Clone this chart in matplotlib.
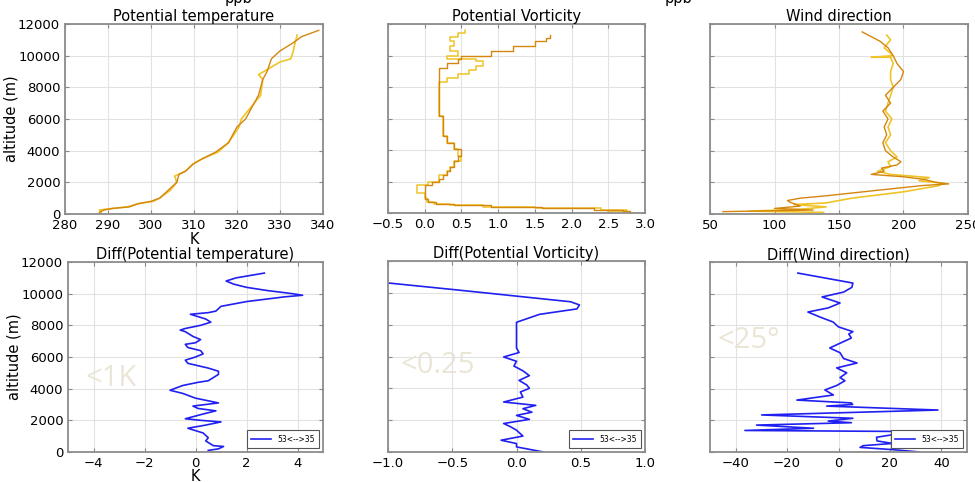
import numpy as np
import matplotlib
matplotlib.use("Agg")
import matplotlib.pyplot as plt

# ---- data ----
# potential temperature profiles (K, m)
pt_a_alt = [100, 250, 350, 450, 650, 800, 1000, 1500, 2000, 2500, 2700, 3200, 3500, 3900,
            4500, 5500, 6000, 7000, 7500, 8500, 9000, 9800, 10300, 10800, 11200, 11500, 11600]
pt_a = [288, 289, 291, 295, 297, 300, 302, 304, 306, 306.5, 308, 310, 312, 315,
        318, 320, 322, 324, 325, 326, 327, 328, 330, 333, 335, 338, 339]
pt_b_alt = [50, 250, 350, 450, 650, 800, 1000, 1500, 2000, 2400, 2700, 3100, 3500, 3900,
            4500, 5500, 6000, 7000, 7500, 8500, 8800, 9200, 9600, 9800, 10200, 10800, 11300]
pt_b = [288.5, 288, 291, 294.5, 297, 300.5, 302, 304.5, 306, 305.5, 308, 309.5, 312, 315.5,
        318, 320.5, 321, 324, 325.5, 326, 325, 327.5, 330, 332.5, 333, 333.5, 334]

# potential vorticity (PVU) layers, value holds from alt_i up to alt_i+1
pv_a_alt = [0, 100, 200, 300, 400, 500, 600, 700, 900, 1750, 1950, 2150, 2400, 2650, 2900,
            3300, 3650, 4050, 4450, 4900, 6150, 9200, 9500, 9800, 10000, 10300, 10600,
            10900, 11100, 11300]
pv_a = [2.8, 2.7, 2.3, 1.6, 0.9, 0.4, 0.15, 0.05, 0.0, 0.1, 0.2, 0.25, 0.3, 0.35, 0.4,
        0.45, 0.5, 0.4, 0.3, 0.25, 0.2, 0.3, 0.45, 0.5, 0.9, 1.2, 1.5, 1.65, 1.7, 1.7]
pv_b_alt = [0, 100, 200, 300, 400, 500, 600, 700, 950, 1250, 1780, 1950, 2150, 2400, 2650,
            2900, 3300, 3650, 4050, 4450, 4900, 6150, 8300, 8550, 8800, 9050, 9350, 9650,
            9800, 10000, 10300, 10600, 10900, 11200, 11450, 11600]
pv_b = [2.5, 2.75, 2.4, 1.5, 0.8, 0.35, 0.12, 0.03, 0.0, -0.1, 0.05, 0.2, 0.2, 0.3, 0.35,
        0.4, 0.5, 0.45, 0.4, 0.3, 0.25, 0.2, 0.3, 0.45, 0.6, 0.7, 0.8, 0.7, 0.3, 0.45,
        0.35, 0.4, 0.35, 0.45, 0.55, 0.55]

# wind direction (deg, m)
wd_a_alt = [150, 170, 250, 350, 500, 750, 850, 1000, 1150, 1500, 1800, 1900, 2000, 2200,
            2350, 2500, 2700, 2900, 3100, 3300, 3600, 4000, 4500, 5000, 5500, 6000, 6500,
            7000, 7500, 8000, 8500, 9000, 9500, 10000, 10500, 10900, 11200, 11500]
wd_a = [60, 75, 130, 100, 120, 112, 110, 120, 140, 180, 215, 235, 225, 215,
        200, 175, 185, 183, 195, 198, 192, 186, 184, 187, 185, 188, 184,
        190, 186, 192, 198, 200, 195, 192, 188, 182, 175, 168]
wd_b_alt = [100, 180, 300, 450, 600, 700, 1000, 1400, 1800, 1950, 2100, 2300, 2500, 2700,
            3000, 3300, 3600, 4000, 4500, 5000, 5500, 6000, 6500, 7000, 7500, 8000, 8500,
            9000, 9500, 9900, 9900, 10000, 10500, 11000, 11300]
wd_b = [138, 80, 120, 140, 115, 140, 160, 200, 228, 230, 212, 220, 190, 180,
        190, 188, 195, 190, 186, 190, 188, 191, 186, 188, 190, 192, 190,
        190, 192, 190, 175, 192, 185, 190, 187]

# differences 53<-->35
dpt_alt = [100, 200, 350, 400, 500, 700, 900, 1200, 1500, 1700, 1900, 2000, 2100, 2400,
           2600, 2750, 2900, 3000, 3100, 3400, 3700, 3900, 4200, 4400, 4500, 4600, 4900,
           5100, 5300, 5600, 5800, 6000, 6200, 6400, 6600, 6800, 6900, 7100, 7300, 7600,
           7700, 7800, 8000, 8200, 8400, 8600, 8700, 8800, 8900, 9200, 9500, 9800, 9900,
           10000, 10200, 10400, 10600, 10800, 11000, 11300]
dpt = [0.5, 0.9, 1.1, 0.7, 0.6, 0.4, 0.5, 0.3, -0.3, 0.4, 1.0, 0.2, -0.4, 0.3,
       0.8, 0.1, -0.1, 0.4, 0.9, 0.0, -0.5, -1.0, -0.5, 0.1, 0.5, 0.6, 0.9,
       0.9, 0.5, -0.3, -0.4, 0.0, 0.3, 0.2, -0.3, -0.4, 0.0, 0.2, -0.1, -0.4,
       -0.6, -0.4, 0.2, 0.6, 0.4, 0.0, -0.2, 0.5, 0.8, 1.0, 2.0, 3.5, 4.2,
       3.8, 2.8, 2.0, 1.5, 1.2, 1.6, 2.7]

dpv_alt = [0, 320, 530, 740, 1000, 1370, 1600, 1790, 2050, 2300, 2500, 2720, 2930, 3140,
           3450, 3770, 4000, 4210, 4500, 4800, 5100, 5400, 5700, 5970, 6250, 6530, 8150,
           8650, 8990, 9240, 9440, 10180, 10620]
dpv = [0.21, 0.0, 0.0, -0.12, 0.05, 0.0, -0.05, -0.1, 0.1, 0.0, 0.12, 0.05, 0.15, -0.1,
       0.05, 0.03, 0.1, 0.08, 0.02, 0.1, 0.05, -0.02, 0.0, -0.1, 0.02, 0.0, 0.0,
       0.18, 0.47, 0.49, 0.42, -0.46, -1.0]

dwd_alt = [0, 150, 290, 400, 540, 700, 930, 1100, 1300, 1360, 1500, 1700, 1850, 1950,
           2130, 2340, 2650, 2900, 3000, 3100, 3280, 3600, 3920, 4200, 4500, 4700, 5000,
           5310, 5620, 5900, 6270, 6570, 6900, 7200, 7450, 7600, 7900, 8210, 8530, 8840,
           9100, 9410, 9790, 10100, 10400, 10670, 11300]
dwd = [31.7, 21, 8.4, 9.6, 21, 15, 14.8, 21.3, 21.3, -36.4, -9.7, -31.9, 5, -4,
       5.6, -29.9, 38.7, -4.6, 5.5, 5.0, -16.2, -2, -5.3, -0.7, 2.5, 0.6, 3.2,
       -0.7, 7.2, 2, 0.6, -3.4, 1, 5, 4, 5.6, 0, -2.1, -7.3, -11.9,
       -4, 0.6, -6.4, 2, 5.2, 5.6, -15.8]

y_ticks = [0, 2000, 4000, 6000, 8000, 10000, 12000]
legend_label = "53<-->35"

c_orange = "#d4860e"
c_yellow = "#efc428"
c_blue = "#2020f0"
c_mark = "#ebe5d6"

W, H = 975, 482
fig = plt.figure(figsize=(W / 100, H / 100), dpi=100)


def make_ax(l, r, t, b):
    ax = fig.add_axes([l / W, 1 - b / H, (r - l) / W, (b - t) / H])
    ax.tick_params(direction="in", labelsize=9.5, length=3, color="#888888",
                   top=True, right=True)
    for s in ax.spines.values():
        s.set_color("#8c8c8c")
        s.set_linewidth(1.3)
    ax.grid(True, color="#e2e2e2", linewidth=0.8)
    ax.set_axisbelow(True)
    ax.set_ylim(0, 12000)
    ax.set_yticks(y_ticks)
    return ax


def add_legend(ax):
    leg = ax.legend(loc="lower right", fontsize=5.5, handlelength=2.6,
                    borderpad=0.6, fancybox=False, framealpha=1)
    leg.get_frame().set_edgecolor("#555555")
    leg.get_frame().set_linewidth(0.8)


# top row
ax1 = make_ax(65, 323, 24, 214)
ax1.plot(pt_b, pt_b_alt, color=c_yellow, lw=1.2)
ax1.plot(pt_a, pt_a_alt, color=c_orange, lw=1.0)
ax1.set_xlim(280, 340)
ax1.set_xticks(range(280, 341, 10))
ax1.set_title("Potential temperature", fontsize=10.5, pad=2)
ax1.set_ylabel("altitude (m)", fontsize=10.5, labelpad=0)
ax1.set_xlabel("K", fontsize=10.5, labelpad=0)

ax2 = make_ax(388, 645, 24, 213)
ax2.plot(pv_b, pv_b_alt, color=c_yellow, lw=1.1, drawstyle="steps-pre")
ax2.plot(pv_a, pv_a_alt, color=c_orange, lw=1.0, drawstyle="steps-pre")
ax2.set_xlim(-0.5, 3.0)
ax2.set_xticks(np.arange(-0.5, 3.01, 0.5))
ax2.set_yticklabels([])
ax2.set_title("Potential Vorticity", fontsize=10.5, pad=2)

ax3 = make_ax(710, 968, 24, 214)
ax3.plot(wd_b, wd_b_alt, color=c_yellow, lw=1.2)
ax3.plot(wd_a, wd_a_alt, color=c_orange, lw=1.0)
ax3.set_xlim(50, 250)
ax3.set_xticks(range(50, 251, 50))
ax3.set_yticklabels([])
ax3.set_title("Wind direction", fontsize=10.5, pad=2)

# bottom row
ax4 = make_ax(68, 323, 262, 452)
ax4.plot(dpt, dpt_alt, color=c_blue, lw=1.2, label=legend_label)
ax4.set_xlim(-5, 5)
ax4.set_xticks(range(-4, 5, 2))
ax4.set_title("Diff(Potential temperature)", fontsize=10.5, pad=2)
ax4.set_ylabel("altitude (m)", fontsize=10.5, labelpad=0)
ax4.set_xlabel("K", fontsize=10.5, labelpad=-0.8)
add_legend(ax4)
ax4.text(0.07, 0.385, "<1K", transform=ax4.transAxes, fontsize=21,
         color=c_mark, family="Open Sans", va="center", zorder=0)

ax5 = make_ax(388, 645, 261, 452)
ax5.plot(dpv, dpv_alt, color=c_blue, lw=1.2, label=legend_label)
ax5.set_xlim(-1, 1)
ax5.set_xticks(np.arange(-1, 1.01, 0.5))
ax5.set_yticklabels([])
ax5.set_title("Diff(Potential Vorticity)", fontsize=10.5, pad=2)
add_legend(ax5)
ax5.text(0.05, 0.455, "<0.25", transform=ax5.transAxes, fontsize=21,
         color=c_mark, family="Open Sans", va="center", zorder=0)

ax6 = make_ax(710, 967, 262, 452)
ax6.plot(dwd, dwd_alt, color=c_blue, lw=1.2, label=legend_label)
ax6.set_xlim(-50, 50)
ax6.set_xticks(range(-40, 41, 20))
ax6.set_yticklabels([])
ax6.set_title("Diff(Wind direction)", fontsize=10.5, pad=2)
add_legend(ax6)
ax6.text(0.03, 0.585, "<25°", transform=ax6.transAxes, fontsize=21,
         color=c_mark, family="Open Sans", va="center", zorder=0)

# cropped labels from a row above
fig.text(238 / W, 1 + 2 / H, "ppb", fontsize=10.5, ha="center", va="center")
fig.text(678 / W, 1 + 2 / H, "ppb", fontsize=10.5, ha="center", va="center")

fig.savefig("out.png", dpi=100)
